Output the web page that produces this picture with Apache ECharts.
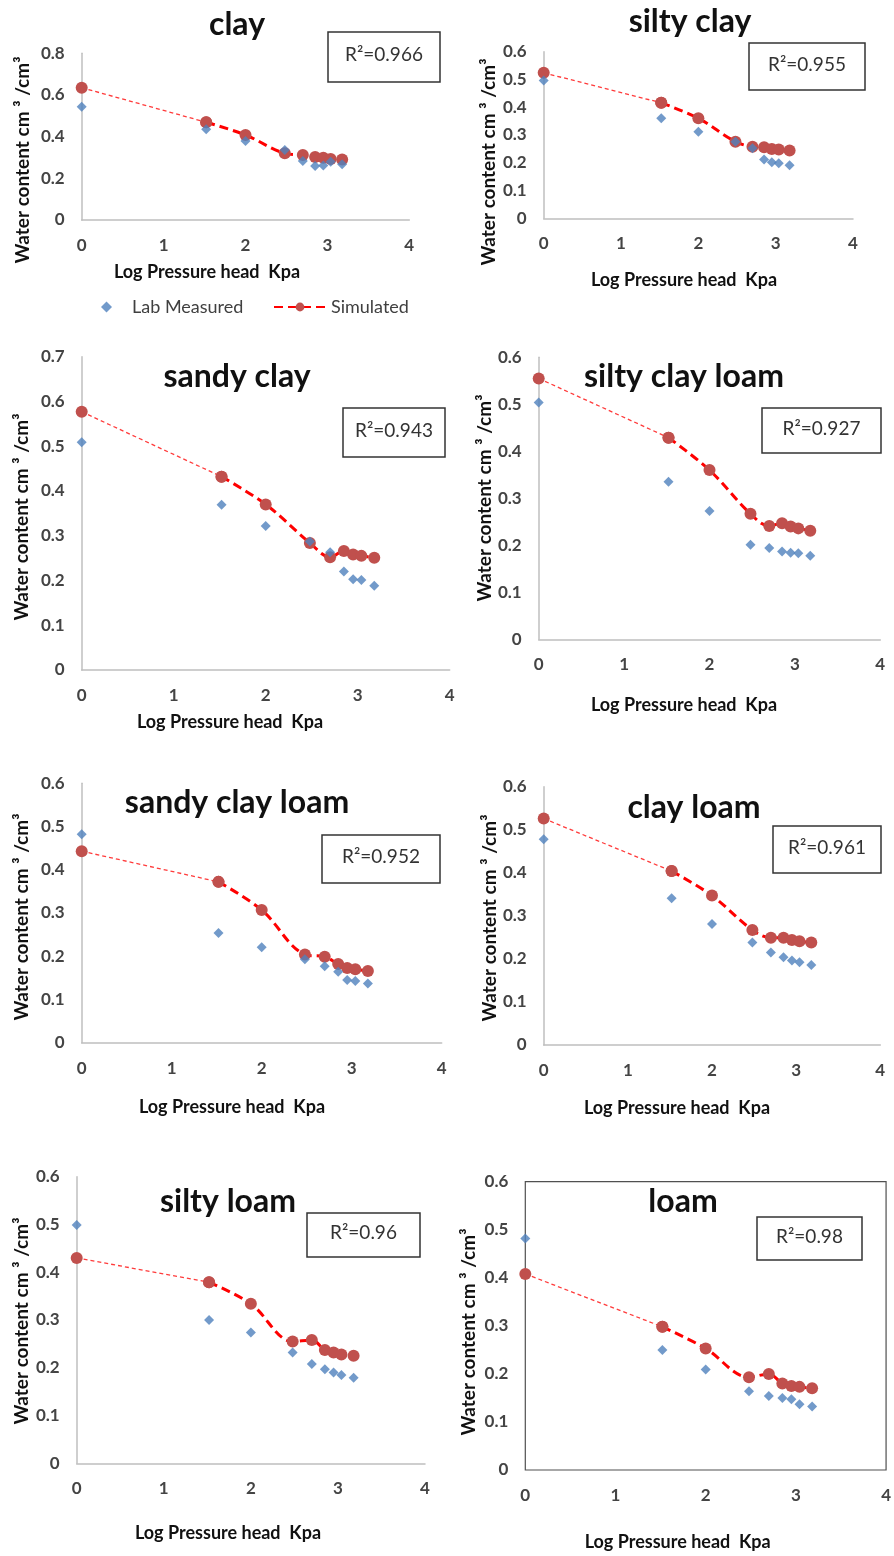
<!DOCTYPE html>
<html>
<head>
<meta charset="utf-8">
<script src="https://cdn.jsdelivr.net/npm/echarts@6/dist/echarts.min.js"></script>
<style>
  html, body { margin: 0; padding: 0; background: #fff; }
  #chart { width: 894px; height: 1556px; }
</style>
</head>
<body>
<div id="chart"></div>
<script>
// ---- data ----
const pressureLog = [0, 1.52, 2, 2.48, 2.7, 2.85, 2.95, 3.04, 3.18];
const soilNames = ['clay', 'silty clay', 'sandy clay', 'silty clay loam', 'sandy clay loam', 'clay loam', 'silty loam', 'loam'];
const r2Labels = ['R²=0.966', 'R²=0.955', 'R²=0.943', 'R²=0.927', 'R²=0.952', 'R²=0.961', 'R²=0.96', 'R²=0.98'];
const yMaxes = [0.8, 0.6, 0.7, 0.6, 0.6, 0.6, 0.6, 0.6];
const ySteps = [0.2, 0.1, 0.1, 0.1, 0.1, 0.1, 0.1, 0.1];
const xTicks = [0, 1, 2, 3, 4];

const clayMeasured = [0.544, 0.435, 0.379, 0.336, 0.283, 0.259, 0.262, 0.28, 0.268];
const claySimulated = [0.635, 0.469, 0.408, 0.32, 0.312, 0.302, 0.299, 0.293, 0.29];
const siltyClayMeasured = [0.496, 0.36, 0.312, 0.276, 0.252, 0.212, 0.202, 0.198, 0.191];
const siltyClaySimulated = [0.524, 0.416, 0.36, 0.276, 0.258, 0.256, 0.25, 0.248, 0.244];
const sandyClayMeasured = [0.509, 0.369, 0.322, 0.287, 0.263, 0.22, 0.203, 0.201, 0.188];
const sandyClaySimulated = [0.577, 0.432, 0.37, 0.284, 0.252, 0.266, 0.258, 0.255, 0.251];
const siltyClayLoamMeasured = [0.504, 0.335, 0.273, 0.201, 0.194, 0.187, 0.184, 0.183, 0.178];
const siltyClayLoamSimulated = [0.555, 0.429, 0.36, 0.267, 0.241, 0.247, 0.24, 0.236, 0.231];
const sandyClayLoamMeasured = [0.482, 0.254, 0.221, 0.193, 0.177, 0.164, 0.145, 0.143, 0.137];
const sandyClayLoamSimulated = [0.443, 0.372, 0.307, 0.204, 0.199, 0.182, 0.173, 0.17, 0.166];
const clayLoamMeasured = [0.478, 0.341, 0.281, 0.238, 0.215, 0.204, 0.196, 0.192, 0.186];
const clayLoamSimulated = [0.526, 0.404, 0.347, 0.267, 0.249, 0.249, 0.244, 0.241, 0.238];
const siltyLoamMeasured = [0.499, 0.3, 0.274, 0.232, 0.208, 0.197, 0.19, 0.185, 0.179];
const siltyLoamSimulated = [0.43, 0.379, 0.334, 0.255, 0.258, 0.237, 0.232, 0.228, 0.225];
const loamMeasured = [0.482, 0.25, 0.209, 0.164, 0.154, 0.15, 0.147, 0.137, 0.132];
const loamSimulated = [0.408, 0.298, 0.253, 0.193, 0.2, 0.18, 0.175, 0.173, 0.17];

const measuredSets = [clayMeasured, siltyClayMeasured, sandyClayMeasured, siltyClayLoamMeasured,
  sandyClayLoamMeasured, clayLoamMeasured, siltyLoamMeasured, loamMeasured];
const simulatedSets = [claySimulated, siltyClaySimulated, sandyClaySimulated, siltyClayLoamSimulated,
  sandyClayLoamSimulated, clayLoamSimulated, siltyLoamSimulated, loamSimulated];

// ---- layout (px) ----
const grids = [
  [81.7, 53.3, 327.6, 166.7],
  [543.7, 51.7, 309.3, 166.6],
  [81.7, 356.7, 368, 313.3],
  [538.7, 357.3, 341.6, 282],
  [81.7, 783.3, 360, 259.4],
  [543.7, 786.7, 336.6, 258.3],
  [76.7, 1176.7, 348.3, 286.6],
  [525.3, 1181.7, 363.4, 288.3]
];
const titlePos = [[237, 25], [690, 22], [237, 377], [684, 377], [237, 803], [694, 808], [228, 1202], [683, 1202]];
const boxPos = [
  [328, 32, 440, 82], [749, 43, 865, 90], [343, 408, 445, 457], [762, 408, 881, 453],
  [322, 835, 440, 883], [773, 826, 881, 873], [307, 1213, 420, 1257], [757, 1217, 862, 1260]
];
const xNameCenter = [[207, 272], [684, 280], [230, 722], [684, 705], [232, 1107], [677, 1108], [228, 1533], [679, 1542]];
const yNameCenter = [[23, 160], [489, 162], [22, 517], [485, 498], [22, 917], [490, 918], [22, 1321], [469, 1332]];

const FONT = 'Lato, "Open Sans", sans-serif';
const X_NAME_SIZE = 18, Y_NAME_SIZE = 19;

const option = {
  animation: false,
  backgroundColor: '#fff',
  title: [], grid: [], xAxis: [], yAxis: [], series: [], graphic: [],
  legend: [
    {
      left: 96, top: 293, itemWidth: 11, itemHeight: 11,
      data: [{ name: 'Lab Measured', icon: 'diamond' }],
      textStyle: { fontFamily: FONT, fontSize: 18, color: '#404040', padding: [0, 0, 0, 15] }
    },
    {
      left: 268, top: 293, itemWidth: 52, itemHeight: 11,
      data: ['Simulated'],
      textStyle: { fontFamily: FONT, fontSize: 18, color: '#404040' }
    }
  ]
};

for (let i = 0; i < 8; i++) {
  const [gl, gt, gw, gh] = grids[i];
  const isBoxed = i === 7;
  option.grid.push({
    left: gl, top: gt, width: gw, height: gh, containLabel: false,
    show: isBoxed, borderColor: '#505050', borderWidth: 1.2
  });
  const axisCx = gl + gw / 2, axisCy = gt + gh / 2;
  const xShift = axisCx - xNameCenter[i][0];
  const yShift = yNameCenter[i][1] - axisCy;
  option.xAxis.push({
    type: 'value', gridIndex: i, min: xTicks[0], max: xTicks[xTicks.length - 1], interval: 1,
    name: 'Log Pressure head  Kpa', nameLocation: 'middle',
    nameGap: xNameCenter[i][1] - (gt + gh) - X_NAME_SIZE / 2,
    nameTextStyle: { fontFamily: FONT, fontSize: X_NAME_SIZE, fontWeight: 'bold', color: '#111',
      padding: xShift > 0 ? [0, 2 * xShift, 0, 0] : [0, 0, 0, -2 * xShift] },
    axisLine: { show: !isBoxed, lineStyle: { color: '#BFBFBF', width: 1.5 } },
    axisTick: { show: false }, splitLine: { show: false },
    axisLabel: { margin: 17, fontFamily: FONT, fontSize: 17, fontWeight: 'bold', color: '#444' }
  });
  option.yAxis.push({
    type: 'value', gridIndex: i, min: 0, max: yMaxes[i], interval: ySteps[i],
    name: 'Water content cm ³ /cm³', nameLocation: 'middle', nameRotate: 90,
    nameGap: grids[i][0] - yNameCenter[i][0] - Y_NAME_SIZE / 2,
    nameTextStyle: { fontFamily: FONT, fontSize: Y_NAME_SIZE, fontWeight: 'bold', color: '#111',
      padding: yShift > 0 ? [0, 2 * yShift, 0, 0] : [0, 0, 0, -2 * yShift] },
    axisLine: { show: !isBoxed, lineStyle: { color: '#BFBFBF', width: 1.5 } },
    axisTick: { show: false }, splitLine: { show: false },
    axisLabel: { margin: 17, fontFamily: FONT, fontSize: 17, fontWeight: 'bold', color: '#444' }
  });

  option.title.push({
    text: soilNames[i], left: titlePos[i][0], top: titlePos[i][1],
    textAlign: 'center', textVerticalAlign: 'middle', padding: 0,
    textStyle: { fontFamily: FONT, fontSize: 32, fontWeight: 'bold', color: '#111' }
  });

  const [bx0, by0, bx1, by1] = boxPos[i];
  option.graphic.push({
    type: 'rect', shape: { x: bx0, y: by0, width: bx1 - bx0, height: by1 - by0 },
    style: { fill: '#fff', stroke: '#333', lineWidth: 1.5 }, z: 10
  });
  option.graphic.push({
    type: 'text', x: (bx0 + bx1) / 2, y: (by0 + by1) / 2 - 2, z: 11,
    style: { text: r2Labels[i], fontFamily: FONT, fontSize: 19, fill: '#333',
      align: 'center', verticalAlign: 'middle' }
  });

  const sim = simulatedSets[i].map((v, k) => [pressureLog[k], v]);
  const meas = measuredSets[i].map((v, k) => [pressureLog[k], v]);

  option.series.push({
    type: 'line', name: 'Simulated first segment', xAxisIndex: i, yAxisIndex: i,
    data: sim.slice(0, 2), symbol: 'circle', symbolSize: 12,
    itemStyle: { color: '#C0504D' },
    lineStyle: { color: '#FF3B3B', width: 1.3, type: [4, 3] }, z: 2, silent: true
  });
  option.series.push({
    type: 'line', name: 'Simulated', xAxisIndex: i, yAxisIndex: i,
    data: sim.slice(1), smooth: 0.35, symbol: 'circle', symbolSize: 12,
    itemStyle: { color: '#C0504D' },
    lineStyle: { color: '#FF0000', width: 3, type: [9, 5] }, z: 3
  });
  option.series.push({
    type: 'scatter', name: 'Lab Measured', xAxisIndex: i, yAxisIndex: i,
    data: meas, symbol: 'diamond', symbolSize: 10,
    itemStyle: { color: '#4F81BD' }, z: 4
  });
}

const chart = echarts.init(document.getElementById('chart'), null, { renderer: 'canvas' });
chart.setOption(option);
</script>
</body>
</html>
